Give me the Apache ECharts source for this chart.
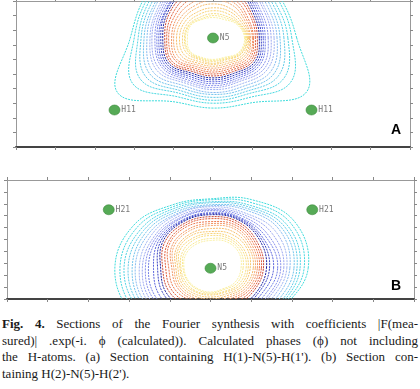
<!DOCTYPE html>
<html>
<head>
<meta charset="utf-8">
<script src="https://cdn.jsdelivr.net/npm/echarts@6/dist/echarts.min.js"></script>
<style>
  html, body { margin: 0; padding: 0; background: #fff; }
  #chart { width: 420px; height: 306px; }
  #caption {
    position: absolute; left: 2px; top: 316px; width: 416px;
    font-family: 'Liberation Serif', 'Times New Roman', serif;
    font-size: 13px; line-height: 16.5px; color: #1a1a1a;
  }
  #caption div { text-align: justify; text-align-last: justify; }
  #caption div.last { text-align-last: left; }
</style>
</head>
<body>
<div id="chart"></div>
<div id="caption">
  <div><b>Fig. 4.</b> Sections of the Fourier synthesis with coefficients |F(mea-</div>
  <div>sured)| .exp(-i. ϕ (calculated)). Calculated phases (ϕ) not including</div>
  <div>the H-atoms. (a) Section containing H(1)-N(5)-H(1'). (b) Section con-</div>
  <div class="last">taining H(2)-N(5)-H(2').</div>
</div>
<script>
// contour radii are read at these directions (degrees, counter-clockwise from east)
const angles = [0, 30, 60, 90, 120, 150, 180, 210, 240, 270, 300, 330]

// section (a): atoms
const atomNamesA = ['N5', 'H11', 'H11']
const atomXA = [200, 100, 300]
const atomYA = [112, 38, 38]
// section (a): contour levels, outermost first, radius per direction around N5
const contourRadiiA = [
  [85, 80, 86, 90, 88, 81, 84, 112, 76, 72, 77, 110],
  [80, 77, 83, 87, 85, 78, 80, 94, 70, 67, 71, 91],
  [76, 73, 80, 84, 82, 75, 76, 85, 66, 64, 67, 83],
  [72, 70, 77, 81, 79, 72, 73, 79, 63, 61, 64, 77],
  [68, 67, 74, 78, 76, 69, 70, 74, 60, 58, 61, 72],
  [65, 64, 71, 75, 73, 67, 67, 70, 57, 56, 58, 68],
  [62, 61, 68, 72, 70, 64, 64, 66, 54, 53, 55, 64],
  [59, 59, 65, 69, 67, 62, 62, 63, 52, 51, 52, 61],
  [56, 56, 62, 66, 64, 60, 59, 60, 50, 49, 50, 58],
  [53, 54, 60, 63, 62, 58, 57, 58, 48, 47, 48, 55],
  [51, 52, 58, 61, 60, 56, 55, 56, 46, 45, 46, 53],
  [49, 50, 56, 59, 58, 55, 53, 54, 44, 43, 44, 51],
  [47, 48, 54, 57, 56, 53, 51, 52, 42, 41, 42, 49],
  [45, 46, 51, 54, 53, 51, 49, 50, 40, 39, 40, 47],
  [43, 44, 48, 51, 50, 48, 47, 48, 38, 37, 38, 45],
  [41, 41, 45, 47, 46, 45, 45, 45, 36, 35, 36, 43],
  [40, 39, 42, 43, 42, 42, 42, 43, 34, 33, 34, 41],
  [38, 37, 39, 39, 38, 39, 40, 40, 32, 31, 32, 39],
  [37, 35, 35, 35, 35, 36, 37, 37, 30, 29, 30, 37],
  [36, 33, 32, 31, 31, 33, 34, 34, 28, 27, 28, 35],
  [35, 31, 29, 28, 28, 30, 31, 31, 26, 26, 26, 33],
  [34, 30, 26, 25, 25, 28, 29, 29, 25, 24, 25, 32],
  [33, 29, 24, 23, 23, 27, 28, 28, 24, 23, 24, 31],
  [32, 28, 22, 21, 22, 26, 26, 27, 23, 22, 23, 30]
]

// section (b): atoms
const atomNamesB = ['N5', 'H21', 'H21']
const atomXB = [200, 100, 300]
const atomYB = [31, 90, 90]
// section (b): contour levels, outermost first
const contourRadiiB = [
  [96, 95, 80, 70, 74, 87, 94, 90, 82, 80, 82, 82],
  [92, 91, 77, 69, 72, 83, 89, 86, 79, 77, 79, 80],
  [88, 87, 74, 67, 70, 79, 85, 82, 76, 74, 76, 78],
  [85, 84, 72, 66, 68, 76, 81, 79, 73, 71, 73, 76],
  [82, 81, 70, 64, 66, 73, 77, 76, 70, 68, 70, 73],
  [78, 78, 68, 63, 64, 70, 74, 73, 67, 65, 67, 70],
  [75, 74, 65, 62, 63, 67, 70, 70, 64, 62, 64, 67],
  [72, 70, 63, 60, 61, 64, 67, 67, 61, 59, 61, 64],
  [69, 66, 61, 59, 59, 62, 64, 64, 58, 57, 58, 62],
  [66, 63, 59, 58, 58, 60, 61, 61, 56, 54, 56, 59],
  [62, 60, 58, 56, 56, 58, 56, 57, 53, 51, 53, 56],
  [58, 58, 57, 55, 55, 56, 52, 53, 50, 48, 50, 53],
  [55, 56, 56, 54, 54, 54, 49, 50, 47, 46, 47, 51],
  [52, 53, 54, 52, 52, 52, 47, 47, 44, 43, 44, 48],
  [50, 51, 52, 50, 50, 49, 44, 44, 41, 40, 41, 46],
  [48, 49, 50, 47, 48, 47, 41, 41, 38, 38, 38, 44],
  [46, 47, 48, 45, 45, 44, 38, 38, 36, 35, 36, 42],
  [44, 45, 46, 43, 43, 42, 36, 36, 34, 33, 34, 40],
  [42, 43, 43, 40, 40, 39, 34, 34, 32, 31, 32, 38],
  [39, 41, 40, 37, 38, 37, 32, 32, 30, 29, 30, 36],
  [37, 38, 37, 35, 35, 35, 30, 30, 28, 27, 28, 34],
  [35, 36, 35, 33, 33, 32, 29, 28, 27, 26, 27, 32],
  [32, 34, 33, 30, 30, 30, 27, 26, 25, 25, 25, 30],
  [30, 32, 31, 28, 28, 28, 26, 25, 24, 24, 24, 28]
]

// one colour per contour level, outermost first
const levelColors = [
  '#40dcdc', '#48d8e0', '#54d4e4', '#64cce8', '#74c4ec', '#88bcf0',
  '#a0b4f2', '#9aa6f0', '#8a92ec', '#7480e6',
  '#5a64dc', '#3a44c4', '#1e22a0',
  '#c84838', '#e0603e', '#ec7a50', '#f29462', '#f5aa72',
  '#f6bc6c', '#f7c870', '#f8d478', '#f8de84', '#f9e890', '#faf0a4'
]

const chart = echarts.init(document.getElementById('chart'))

function frameAxes(gridIndex, dim, max, interval) {
  const positions = dim === 'x' ? ['bottom', 'top'] : ['left', 'right']
  return positions.map(function (pos) {
    return {
      gridIndex: gridIndex,
      type: 'value',
      min: 0,
      max: max,
      interval: interval,
      position: pos,
      axisLine: {
        show: true,
        onZero: false,
        lineStyle: pos === 'bottom' ? { color: '#444', width: 2 } : { color: '#999', width: 1 }
      },
      axisTick: { show: true, length: 3, lineStyle: { color: '#888' } },
      axisLabel: { show: false },
      splitLine: { show: false }
    }
  })
}

function contourSeries(gridIndex, center, radii) {
  return {
    type: 'custom',
    xAxisIndex: gridIndex * 2,
    yAxisIndex: gridIndex * 2,
    silent: true,
    z: 2,
    data: radii.map(function (r, i) { return [center[0], center[1], i] }),
    renderItem: function (params, api) {
      const rs = radii[params.dataIndex]
      const pts = rs.map(function (r, k) {
        const a = angles[k] * Math.PI / 180
        return api.coord([center[0] + r * Math.cos(a), center[1] + r * Math.sin(a)])
      })
      const cs = params.coordSys
      return {
        type: 'polygon',
        shape: { points: pts, smooth: 0.4 },
        style: {
          fill: 'none',
          stroke: levelColors[params.dataIndex],
          lineWidth: 1,
          lineDash: [2, 1]
        },
        clipPath: { type: 'rect', shape: { x: cs.x, y: cs.y, width: cs.width, height: cs.height } }
      }
    }
  }
}

function atomSeries(gridIndex, names, xs, ys) {
  return {
    type: 'scatter',
    xAxisIndex: gridIndex * 2,
    yAxisIndex: gridIndex * 2,
    z: 5,
    symbol: 'circle',
    symbolSize: [11, 10],
    itemStyle: { color: '#56aa56', borderColor: '#3c8a3c', borderWidth: 0.6, opacity: 1 },
    label: {
      show: true,
      position: 'right',
      distance: 1,
      formatter: '{b}',
      fontFamily: 'DejaVu Sans Mono',
      fontSize: 8,
      color: '#777'
    },
    data: names.map(function (n, i) { return { name: n, value: [xs[i], ys[i]] } })
  }
}

chart.setOption({
  animation: false,
  grid: [
    { left: 16, top: 1, width: 394, height: 146 },
    { left: 7, top: 180, width: 407, height: 119 }
  ],
  xAxis: [].concat(frameAxes(0, 'x', 400, 40), frameAxes(1, 'x', 400, 40)),
  yAxis: [].concat(frameAxes(0, 'y', 150, 15), frameAxes(1, 'y', 120, 12)),
  graphic: [
    { type: 'text', left: 391, top: 123, style: { text: 'A', font: 'bold 14px "Liberation Sans", Arial, sans-serif', fill: '#000' } },
    { type: 'text', left: 391, top: 279, style: { text: 'B', font: 'bold 14px "Liberation Sans", Arial, sans-serif', fill: '#000' } }
  ],
  series: [
    contourSeries(0, [atomXA[0], atomYA[0]], contourRadiiA),
    atomSeries(0, atomNamesA, atomXA, atomYA),
    contourSeries(1, [atomXB[0], atomYB[0]], contourRadiiB),
    atomSeries(1, atomNamesB, atomXB, atomYB)
  ]
})
</script>
</body>
</html>
